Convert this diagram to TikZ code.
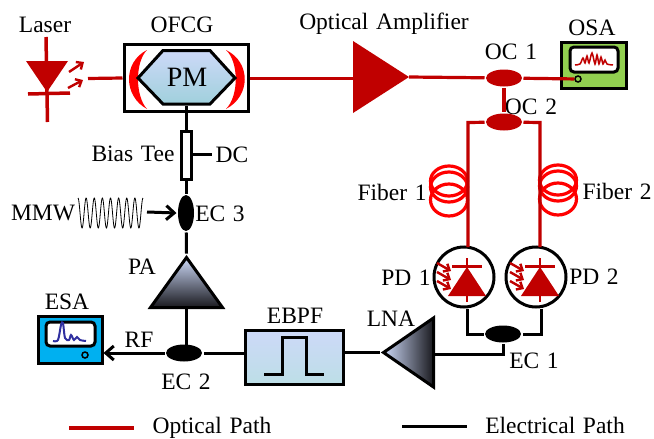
\documentclass[tikz,border=0pt]{standalone}
\usepackage{fontspec}
\setmainfont[WordSpace=1.3]{Liberation Serif}
\usetikzlibrary{shapes.geometric,arrows.meta}
\definecolor{optred}{RGB}{192,0,0}
\definecolor{coilred}{RGB}{255,0,0}
\definecolor{palegrad}{RGB}{205,217,248}
\definecolor{tealgrad}{RGB}{160,208,220}
\definecolor{darkgrad}{RGB}{25,25,30}
\begin{document}
\begin{tikzpicture}[x=1pt,y=-1pt,line width=3pt,font=\fontsize{23.5}{27}\selectfont,>={Straight Barb[length=8pt,width=14pt]}]

\tikzstyle{lbl}=[inner sep=0pt]
\tikzstyle{optical}=[draw=optred,line width=3.2pt]
\tikzstyle{photon}=[optred,line width=2.4pt,-{Straight Barb[length=5pt,width=9pt]}]
\tikzstyle{coupler}=[ellipse,fill=optred,minimum width=36pt,minimum height=17pt,inner sep=0pt]
\tikzstyle{ecoupler}=[ellipse,fill=black,minimum width=36pt,minimum height=17pt,inner sep=0pt]
\tikzstyle{amp}=[isosceles triangle,isosceles triangle stretches,draw=black,line width=3pt,inner sep=0pt,anchor=lower side]
\tikzstyle{analyzer}=[rectangle,draw=black,line width=3pt,inner sep=0pt]
\tikzstyle{screen}=[rectangle,draw=black,fill=white,line width=3pt,rounded corners=4pt,inner sep=0pt]
\tikzstyle{pdcircle}=[circle,draw=black,fill=white,minimum size=60pt,inner sep=0pt]
\tikzstyle{coil}=[ellipse,draw=coilred,line width=3.2pt,minimum width=37pt,inner sep=0pt]

\useasboundingbox (0,0) rectangle (654,439);

% labels
\node[lbl] (laserl) at (45,25) {Laser};
\node[lbl] (ofcgl) at (182,25) {OFCG};
\node[lbl] (oal) at (384,24) {Optical Amplifier};
\node[lbl] (osal) at (592,28) {OSA};
\node[lbl] (oc1l) at (511,52) {OC 1};
\node[lbl] (oc2l) at (531,107) {OC 2};
\node[lbl] (f1l) at (392,192) {Fiber 1};
\node[lbl] (f2l) at (617,191) {Fiber 2};
\node[lbl] (biasl) at (133,154) {Bias Tee};
\node[lbl] (dcl) at (232,155) {DC};
\node[lbl] (mmwl) at (43,213) {MMW};
\node[lbl] (ec3l) at (220,214) {EC 3};
\node[lbl] (pal) at (142,267) {PA};
\node[lbl] (esal) at (67,302) {ESA};
\node[lbl] (rfl) at (139,340) {RF};
\node[lbl] (ec2l) at (186,382) {EC 2};
\node[lbl] (ebpfl) at (295,316) {EBPF};
\node[lbl] (lnal) at (391,319) {LNA};
\node[lbl] (pd1l) at (406,278) {PD 1};
\node[lbl] (pd2l) at (594,277) {PD 2};
\node[lbl] (ec1l) at (534,361) {EC 1};

% laser
\coordinate (laserout) at (88,78.5);
\draw[optred,line width=3.5pt] (46,37) -- (47.5,122);
\fill[optred] (26,61) -- (68,61) -- (47,92) -- cycle;
\draw[optred,line width=3.5pt] (28,94) -- (70,93);
\draw[photon] (69,72) -- (84,62);
\draw[photon] (68,88) -- (83,80);

% ofcg
\node[rectangle,draw=black,line width=3pt,minimum width=124pt,minimum height=67pt,inner sep=0pt] (ofcg) at (186,78) {};
\fill[coilred] (147,50) .. controls (123,62) and (123,96) .. (147,109) .. controls (135,96) and (135,62) .. (147,50) -- cycle;
\fill[coilred] (226,50) .. controls (251,62) and (251,96) .. (226,109) .. controls (239,96) and (239,62) .. (226,50) -- cycle;
\draw[line width=3pt,top color=palegrad,bottom color=tealgrad] (138,78) -- (163,50.5) -- (210,50.5) -- (235,78) -- (210,104) -- (163,104) -- cycle;
\node[lbl,font=\fontsize{28}{32}\selectfont,minimum height=53.5pt] (pm) at (187,77.5) {PM};

% optical path
\node[isosceles triangle,isosceles triangle stretches,fill=optred,minimum width=72pt,minimum height=56pt,inner sep=0pt,outer sep=0pt,anchor=lower side] (oa) at (353,77) {};
\node[coupler] (oc1) at (504,78) {};
\node[coupler] (oc2) at (504,122) {};
\draw[optical] (laserout) -- (ofcg.west);
\draw[optical] (ofcg.east |- 0,78.5) -- (oa.lower side |- 0,78.5);
\draw[optical] (oa.apex) -- (oc1);
\draw[optical] (oc1) -- (oc2);

% osa
\node[analyzer,fill={rgb,255:red,146;green,208;blue,80},minimum width=65pt,minimum height=46pt] (osa) at (593.5,65) {};
\node[screen,minimum width=48pt,minimum height=25pt] (osascreen) at (594,59.5) {};
\node[circle,draw=black,line width=1.5pt,minimum size=6pt,inner sep=0pt] (osadot) at (578,79) {};
\draw[optical] (oc1) -- (osadot);
\draw[optred,line width=1.5pt] plot[smooth] coordinates {(575,65) (580,64) (583,58) (585,63) (587,56) (589,63) (592,53) (595,64) (597,55) (599,64) (601,57) (603,64) (605,60) (607,64) (613,65)};

% fibers
\node[coil,minimum height=30pt] (coil1a) at (449,181) {};
\node[coil,minimum height=30pt] (coil1b) at (449,187) {};
\node[coil,minimum height=32pt] (coil1c) at (449,200) {};
\node[coil,minimum height=30pt] (coil2a) at (558,180) {};
\node[coil,minimum height=30pt] (coil2b) at (558,186) {};
\node[coil,minimum height=32pt] (coil2c) at (558,199) {};

% photodiodes
\node[pdcircle] (pd1) at (464,277) {};
\node[pdcircle] (pd2) at (536,277) {};
\draw[optical] (oc2) -- (468,122.5) -- (468,247);
\draw[optical] (oc2) -- (540,122.5) -- (540,247);
\foreach \dx in {0,73}{
  \fill[optred] (448+\dx,296) -- (486+\dx,296) -- (467+\dx,267) -- cycle;
  \draw[optred,line width=2.5pt] (452+\dx,266.5) -- (482+\dx,266.5);
  \draw[optred,line width=2.5pt] (467+\dx,258) -- (467+\dx,302);
  \foreach \dy in {0,9,18}{
    \draw[photon] (437+\dx,263+\dy) -- (451+\dx,271+\dy);
  }
}

% electrical path
\node[ecoupler] (ec1) at (503,334) {};
\draw (pd1.south -| 467,0) -- (467,334) -- (ec1);
\draw (pd2.south -| 541,0) -- (541,334) -- (ec1);
\node[amp,shape border rotate=180,minimum width=69pt,minimum height=50pt,left color=palegrad,right color=darkgrad] (lna) at (435,352.5) {};
\draw (ec1) -- (503,354) -- (lna.lower side |- 0,354);
\node[rectangle,draw=black,line width=3pt,top color=palegrad,bottom color=tealgrad!70!white,minimum width=98pt,minimum height=54pt,inner sep=0pt] (ebpf) at (294,357) {};
\draw (lna.apex) -- (ebpf.east |- lna.apex);
\draw (264,374) -- (282,374) -- (282,337) -- (306,337) -- (306,374) -- (324,374);
\node[ecoupler] (ec2) at (184,353) {};
\draw (ebpf.west |- ec2) -- (ec2);
\node[analyzer,fill={rgb,255:red,0;green,176;blue,240},minimum width=64pt,minimum height=47pt] (esa) at (70,339.5) {};
\node[screen,minimum width=49pt,minimum height=24pt] (esascreen) at (70.5,334) {};
\node[circle,draw=black,line width=1.5pt,minimum size=6pt,inner sep=0pt] (esadot) at (85,355) {};
\draw[color={rgb,255:red,48;green,48;blue,160},line width=2pt] plot[smooth] coordinates {(53,341) (58,340) (61,325) (63,323) (65,338) (69,340) (71,335) (74,340) (77,337) (80,340) (86,341)};
\draw[->] (ec2) -- (esa.east |- ec2);
\node[amp,shape border rotate=90,minimum width=72pt,minimum height=50pt,top color=palegrad,bottom color=darkgrad] (pa) at (186.5,309) {};
\draw (ec2 -| pa.lower side) -- (pa.lower side);

% bias tee and mmw
\node[ellipse,fill=black,minimum width=16pt,minimum height=36pt,inner sep=0pt] (ec3) at (186,213) {};
\node[rectangle,draw=black,line width=3pt,fill=white,minimum width=10pt,minimum height=48pt,inner sep=0pt] (bias) at (186,155) {};
\draw (pm.south -| bias.north) -- (bias.north);
\draw (bias.south) -- (ec3);
\draw (ec3) -- (pa.apex);
\coordinate (dcend) at (212,154);
\draw (bias.east |- dcend) -- (dcend);
\coordinate (mmwend) at (147,212);
\draw[->] (mmwend) -- (ec3.west);
\draw[line width=0.8pt] plot[domain=0:1,samples=220] ({78+65*\x},{213-15*cos(8*360*\x)});

% legend
\coordinate (optstart) at (69,428);
\coordinate (optend) at (134,428);
\coordinate (elstart) at (402,426);
\coordinate (elend) at (467,426);
\draw[optical] (optstart) -- (optend);
\draw (elstart) -- (elend);
\node[lbl] (optl) at (212,428) {Optical Path};
\node[lbl] (ell) at (555,425) {Electrical Path};
\end{tikzpicture}
\end{document}
